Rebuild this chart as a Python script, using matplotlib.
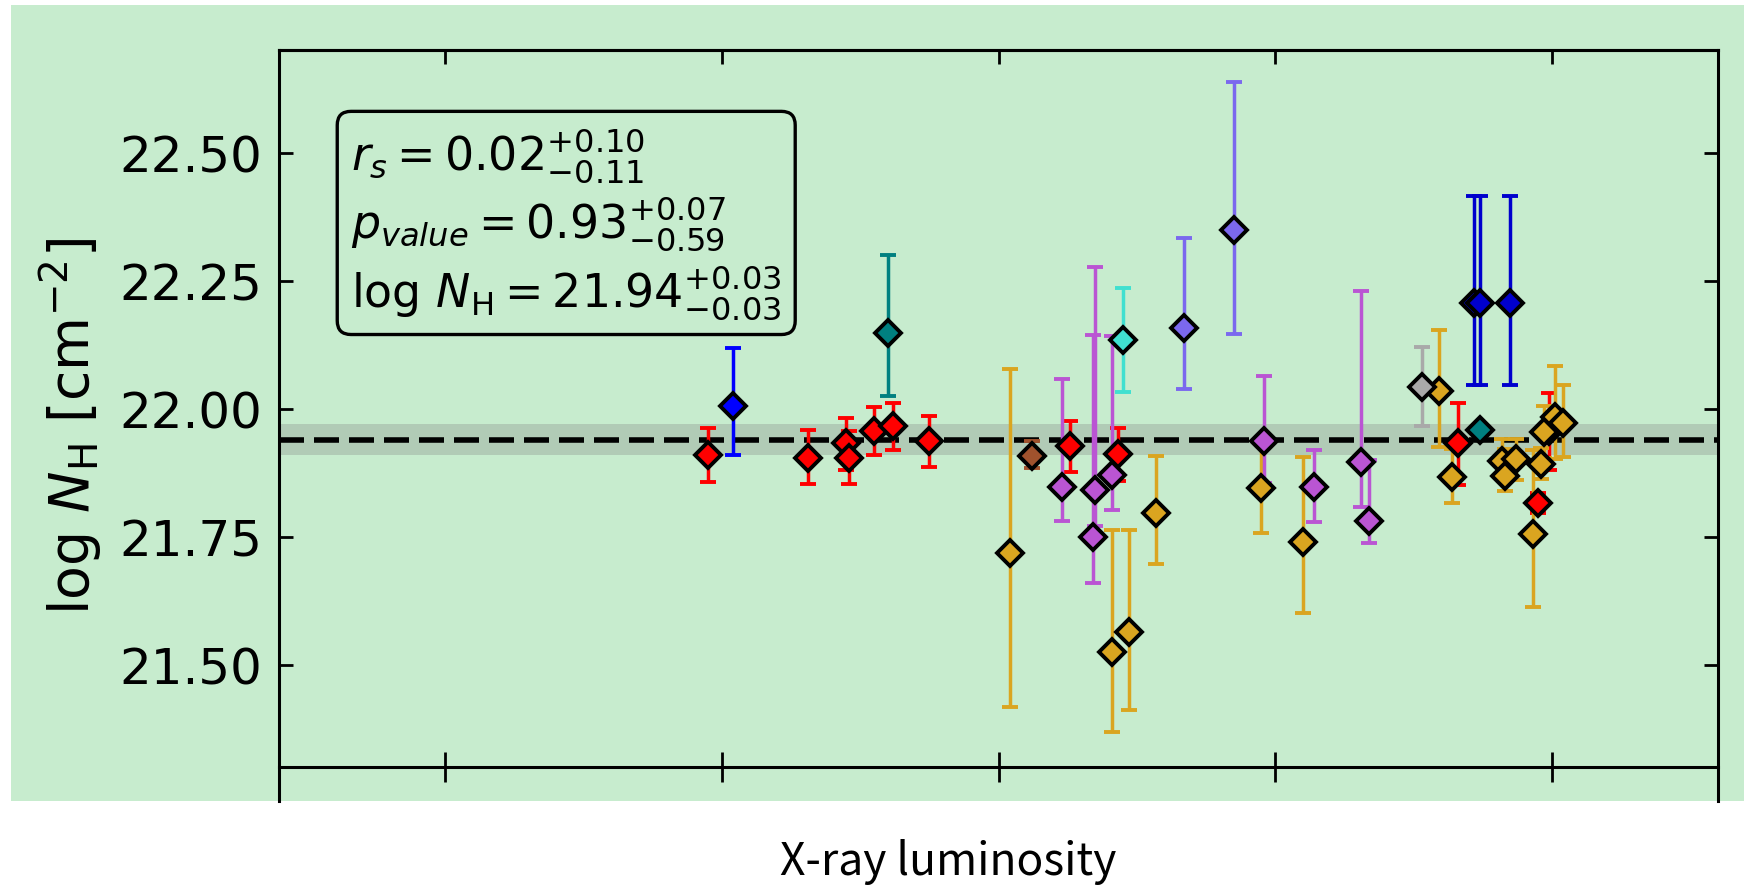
import matplotlib
matplotlib.use("Agg")
import matplotlib.pyplot as plt
from matplotlib.patches import Rectangle
from matplotlib.ticker import FormatStrFormatter

# values (x in log L_X units, ticks 41..45)
red_x = [41.95, 42.31, 42.45, 42.46, 42.55, 42.62, 42.75, 43.26, 43.43, 44.66, 44.99, 44.95]
red_y = [21.91, 21.905, 21.934, 21.905, 21.956, 21.966, 21.937, 21.927, 21.912, 21.933, 21.957, 21.816]
red_lo = [0.053, 0.052, 0.053, 0.052, 0.047, 0.047, 0.05, 0.051, 0.053, 0.081, 0.076, 0.02]
red_hi = [0.053, 0.053, 0.048, 0.052, 0.047, 0.046, 0.049, 0.05, 0.051, 0.078, 0.074, 0.02]

blue_x = [42.04]
blue_y = [22.006]
blue_lo = [0.096]
blue_hi = [0.113]

teal_x = [42.60, 44.74]
teal_y = [22.148, 21.958]
teal_lo = [0.122, 0.01]
teal_hi = [0.153, 0.01]

gold_x = [43.04, 43.41, 43.47, 43.57, 43.95, 44.10, 44.59, 44.64, 44.82, 44.87, 44.83, 44.97, 44.96, 44.93, 45.01, 45.04]
gold_y = [21.719, 21.526, 21.564, 21.797, 21.845, 21.740, 22.034, 21.866, 21.899, 21.902, 21.869, 21.955, 21.893, 21.755, 21.984, 21.973]
gold_lo = [0.301, 0.157, 0.152, 0.10, 0.087, 0.139, 0.109, 0.05, 0.034, 0.04, 0.03, 0.05, 0.03, 0.142, 0.082, 0.067]
gold_hi = [0.358, 0.237, 0.199, 0.11, 0.09, 0.166, 0.12, 0.056, 0.042, 0.04, 0.053, 0.05, 0.03, 0.164, 0.099, 0.073]

sienna_x = [43.12]
sienna_y = [21.907]
sienna_lo = [0.023]
sienna_hi = [0.03]

orchid_x = [43.23, 43.35, 43.34, 43.41, 43.96, 44.14, 44.31, 44.34]
orchid_y = [21.848, 21.842, 21.75, 21.871, 21.938, 21.848, 21.896, 21.781]
orchid_lo = [0.068, 0.07, 0.09, 0.069, 0.083, 0.069, 0.088, 0.043]
orchid_hi = [0.211, 0.435, 0.395, 0.272, 0.126, 0.072, 0.334, 0.12]

slate_x = [43.67, 43.85]
slate_y = [22.158, 22.35]
slate_lo = [0.119, 0.204]
slate_hi = [0.176, 0.288]

turq_x = [43.45]
turq_y = [22.135]
turq_lo = [0.102]
turq_hi = [0.102]

gray_x = [44.53]
gray_y = [22.043]
gray_lo = [0.077]
gray_hi = [0.077]

mblue_x = [44.72, 44.74, 44.85]
mblue_y = [22.206, 22.206, 22.206]
mblue_lo = [0.159, 0.159, 0.159]
mblue_hi = [0.21, 0.21, 0.21]

mean_nh = 21.94
mean_err = 0.03
yticks = [21.5, 21.75, 22.0, 22.25, 22.5]
xticks = [41, 42, 43, 44, 45]

groups = [
    (red_x, red_y, red_lo, red_hi, 'red'),
    (blue_x, blue_y, blue_lo, blue_hi, 'blue'),
    (teal_x, teal_y, teal_lo, teal_hi, 'teal'),
    (gold_x, gold_y, gold_lo, gold_hi, 'goldenrod'),
    (sienna_x, sienna_y, sienna_lo, sienna_hi, 'sienna'),
    (orchid_x, orchid_y, orchid_lo, orchid_hi, 'mediumorchid'),
    (slate_x, slate_y, slate_lo, slate_hi, 'mediumslateblue'),
    (turq_x, turq_y, turq_lo, turq_hi, 'turquoise'),
    (gray_x, gray_y, gray_lo, gray_hi, 'darkgray'),
    (mblue_x, mblue_y, mblue_lo, mblue_hi, 'mediumblue'),
]

green = '#c7ecce'

fig = plt.figure(figsize=(17.44, 8.95), dpi=100)
# green panel behind the plot (the white strip on the left and under it stays white)
fig.patches.append(Rectangle((11 / 1744, 1 - 802 / 895), 1 - 11 / 1744, 796 / 895,
                             transform=fig.transFigure, fc=green, ec='none', zorder=-1))

ax = fig.add_axes([0.16, 0.1039, 0.8251, 0.8391])
ax.set_facecolor(green)

ax.axhspan(mean_nh - mean_err, mean_nh + mean_err, color='gray', alpha=0.3, lw=0, zorder=1)
ax.axhline(mean_nh, color='black', ls=(0, (4.5, 1.8)), lw=4, zorder=1.5)

for gx, gy, glo, ghi, c in groups:
    ax.errorbar(gx, gy, yerr=[glo, ghi], fmt='D', ms=13, mfc=c, mec='black', mew=2.8,
                ecolor=c, elinewidth=2.5, capsize=6, capthick=2.5, zorder=3)

ax.set_xlim(40.4, 45.6)
ax.set_ylim(21.234, 22.701)
ax.set_xticks(xticks)
ax.set_yticks(yticks)
ax.yaxis.set_major_formatter(FormatStrFormatter('%.2f'))

for s in ax.spines.values():
    s.set_linewidth(2.2)
ax.spines['bottom'].set_position(('data', 21.3))

ax.tick_params(axis='y', direction='in', length=10, width=2, labelsize=36, pad=12,
               left=True, right=True)
ax.tick_params(axis='x', direction='inout', length=21, width=2, labelbottom=False, top=False)

top = ax.secondary_xaxis('top')
top.set_xticks(xticks)
top.tick_params(direction='in', length=10, width=2, labeltop=False)
top.spines['top'].set_linewidth(2.2)

ax.set_ylabel(r'$\log\,N_{\rm H}$ [cm$^{-2}$]', fontsize=40, labelpad=10)

stats = (r'$r_s = 0.02^{+0.10}_{-0.11}$' + '\n'
         r'$p_{value} = 0.93^{+0.07}_{-0.59}$' + '\n'
         r'$\log\,N_{\rm H} = 21.94^{+0.03}_{-0.03}$')
ax.text(0.05, 0.9, stats, transform=ax.transAxes, fontsize=33, va='top', ha='left',
        linespacing=1.22,
        bbox=dict(boxstyle='round,pad=0.3', fc='none', ec='black', lw=2.4), zorder=5)

fig.text(948 / 1744, 1 - 875 / 895, 'X-ray luminosity', ha='center', va='baseline',
         fontsize=32, fontweight='light', family=['Noto Sans CJK SC', 'DejaVu Sans'])

fig.savefig('out.png', dpi=100, facecolor='white')
